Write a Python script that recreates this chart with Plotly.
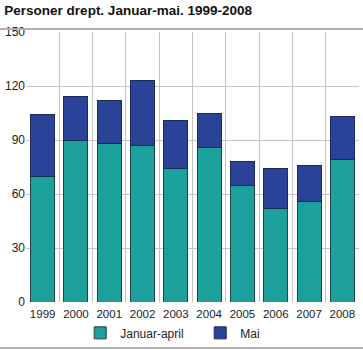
import plotly.graph_objects as go

years = ["1999", "2000", "2001", "2002", "2003", "2004", "2005", "2006", "2007", "2008"]
jan_apr = [70, 90, 88, 87, 74, 86, 65, 52, 56, 79]
mai = [34, 24, 24, 36, 27, 19, 13, 22, 20, 24]
y_ticks = [0, 30, 60, 90, 120, 150]

teal = "#1ba09c"
navy = "#2a4399"

fig = go.Figure()
fig.add_trace(go.Bar(x=years, y=jan_apr, name="Januar-april",
                     marker=dict(color=teal, line=dict(color="#23414a", width=1))))
fig.add_trace(go.Bar(x=years, y=mai, name="Mai",
                     marker=dict(color=navy, line=dict(color="#1c2a5a", width=1))))

fig.update_layout(
    barmode="stack",
    bargap=0.28,
    width=363, height=350,
    margin=dict(l=26, r=4, t=32, b=48, autoexpand=False),
    paper_bgcolor="white", plot_bgcolor="white",
    font=dict(family="Liberation Sans, Arial, sans-serif", size=12, color="#222"),
    title=dict(text="<b>Personer drept. Januar-mai. 1999-2008</b>",
               x=0.012, xanchor="left", y=0.985, yanchor="top",
               font=dict(size=13.5, color="#111")),
    showlegend=True,
    legend=dict(orientation="h", xref="container", yref="container",
                x=0.221, xanchor="left", y=0.049, yanchor="middle",
                font=dict(size=12), entrywidth=75, traceorder="normal"),
    xaxis=dict(type="category", tickson="boundaries", showgrid=True,
               gridcolor="#c4c4c8", gridwidth=1, ticks="", showline=False,
               range=[-0.5, 9.5], fixedrange=True, ticklabelstandoff=3,
               tickangle=0, tickfont=dict(size=11.5)),
    yaxis=dict(range=[0, 150], tickvals=y_ticks, showgrid=True,
               gridcolor="#c4c4c8", gridwidth=1, ticks="", zeroline=False,
               showline=False, fixedrange=True),
    shapes=[
        dict(type="line", xref="paper", yref="paper", x0=-0.08, x1=1.02,
             y0=1.011, y1=1.011, line=dict(color="#b0b0b0", width=2)),
        dict(type="line", xref="paper", yref="paper", x0=-0.08, x1=1.02,
             y0=-0.170, y1=-0.170, line=dict(color="#b0b0b0", width=2)),
    ],
)

fig.write_html("out.html")
